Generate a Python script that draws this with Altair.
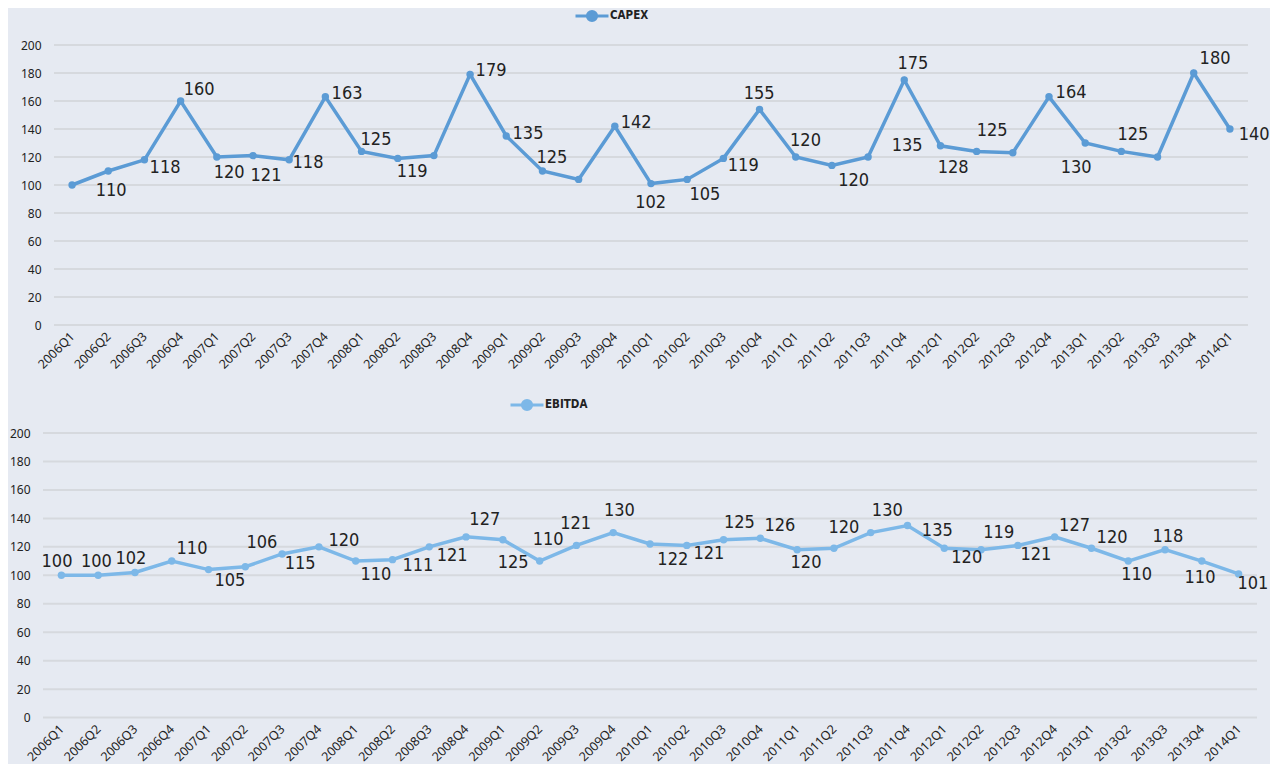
import altair as alt
import pandas as pd

quarters = ["2006Q1", "2006Q2", "2006Q3", "2006Q4", "2007Q1", "2007Q2", "2007Q3", "2007Q4",
            "2008Q1", "2008Q2", "2008Q3", "2008Q4", "2009Q1", "2009Q2", "2009Q3", "2009Q4",
            "2010Q1", "2010Q2", "2010Q3", "2010Q4", "2011Q1", "2011Q2", "2011Q3", "2011Q4",
            "2012Q1", "2012Q2", "2012Q3", "2012Q4", "2013Q1", "2013Q2", "2013Q3", "2013Q4",
            "2014Q1"]

capex = [100, 110, 118, 160, 120, 121, 118, 163, 124, 119, 121, 179, 135, 110, 104, 142,
         101, 104, 119, 154, 120, 114, 120, 175, 128, 124, 123, 163, 130, 124, 120, 180, 140]

ebitda = [100, 100, 102, 110, 104, 106, 115, 120, 110, 111, 120, 127, 125, 110, 121, 130,
          122, 121, 125, 126, 118, 119, 130, 135, 119, 118, 121, 127, 119, 110, 118, 110, 101]

# data labels as printed on the chart (text, anchor in quarter-index units, anchor value)
capex_label_text = ["110", "118", "160", "120", "121", "118", "163", "125", "119", "179", "135",
                    "125", "142", "102", "105", "119", "155", "120", "120", "175", "135", "128",
                    "125", "164", "130", "125", "180", "140"]
capex_label_x = [1.08, 2.57, 3.51, 4.34, 5.36, 6.52, 7.60, 8.40, 9.40, 11.58, 12.60, 13.26,
                 15.59, 15.99, 17.49, 18.55, 18.99, 20.27, 21.60, 23.24, 23.08, 24.35, 25.43,
                 27.61, 27.75, 29.32, 31.59, 32.67]
capex_label_y = [95.5, 112, 167.6, 108.4, 106.2, 115.5, 164.8, 131.9, 109, 181.2, 136.2, 119,
                 144, 87.3, 92.9, 113.7, 164.8, 131.2, 102.6, 186.2, 127.6, 112, 138.4, 165.5,
                 112, 135.5, 189.8, 135.5]

ebitda_label_text = ["100", "100", "102", "110", "105", "106", "115", "120", "110", "111", "121",
                     "127", "125", "110", "121", "130", "122", "121", "125", "126", "120", "120",
                     "130", "135", "120", "119", "121", "127", "120", "110", "118", "110", "101"]
ebitda_label_x = [-0.12, 0.95, 1.89, 3.55, 4.58, 5.45, 6.49, 7.68, 8.55, 9.69, 10.62, 11.51,
                  12.28, 13.23, 13.98, 15.17, 16.62, 17.60, 18.43, 19.53, 20.24, 21.27, 22.45,
                  23.81, 24.61, 25.48, 26.49, 27.54, 28.56, 29.23, 30.08, 30.95, 32.39]
ebitda_label_y = [109.1, 109.1, 111.2, 118.3, 95.8, 122.5, 107.7, 123.9, 100, 106.3, 113.4,
                  138.7, 108.4, 124.6, 135.8, 144.9, 110.5, 114.8, 136.5, 134.4, 108.4, 133.4,
                  145.3, 131.3, 111.9, 129.9, 114.1, 134.4, 126, 100, 126.7, 97.9, 93.7]

y_ticks = [0, 20, 40, 60, 80, 100, 120, 140, 160, 180, 200]

BG = "#E6EAF2"
GRID = "#D6D9DE"
TEXT = "#222222"
LABEL_FONT = "Liberation Sans Narrow, DejaVu Sans Condensed, Liberation Sans"
AXIS_FONT = "Noto Sans"
# line with a dot; drawn at symbolSize 121 (unit = 5.5 px) -> 33 px wide, dot radius ~4.6 px
LEGEND_PATH = "M-3,0L3,0M0.84,0A0.84,0.84,0,1,1,-0.84,0A0.84,0.84,0,1,1,0.84,0Z"

label_expr = "[" + ",".join("'%s'" % q for q in quarters) + "][datum.value]"


def panel(name, values, ltext, lx, ly, color, xdomain, width, height, ylabelpad, legx, legy):
    df = pd.DataFrame({"idx": list(range(len(quarters))), "quarter": quarters,
                       "value": values, "series": name})
    lab = pd.DataFrame({"t": ltext, "lx": lx, "ly": ly})
    grid = pd.DataFrame({"v": y_ticks})

    xscale = alt.Scale(domain=xdomain, nice=False, zero=False)
    yscale = alt.Scale(domain=[0, 200], nice=False)

    xaxis = alt.Axis(
        values=list(range(len(quarters))), labelExpr=label_expr, labelAngle=-45,
        labelAlign="right", labelBaseline="middle", grid=False, ticks=False, domain=False,
        title=None, labelFont=AXIS_FONT, labelFontSize=12.5, labelColor=TEXT,
        labelPadding=9, labelOverlap=False, labelBound=False, labelFlush=False)
    yaxis = alt.Axis(
        values=y_ticks, grid=False, ticks=False, domain=False, title=None,
        labelFont=AXIS_FONT, labelFontSize=12, labelColor=TEXT, labelPadding=ylabelpad,
        labelOverlap=False, labelBound=False, labelFlush=False)

    rules = alt.Chart(grid).mark_rule(color=GRID, strokeWidth=2).encode(
        y=alt.Y("v:Q", scale=yscale, axis=yaxis),
        x=alt.XDatum(-0.5, scale=xscale, axis=xaxis, type="quantitative"),
        x2=alt.X2Datum(32.5),
    )

    line = alt.Chart(df).mark_line(
        strokeWidth=3.5,
        point=alt.OverlayMarkDef(size=55, filled=True, opacity=1),
    ).encode(
        x=alt.X("idx:Q", scale=xscale, axis=xaxis),
        y=alt.Y("value:Q", scale=yscale, axis=yaxis),
        color=alt.Color("series:N", scale=alt.Scale(domain=[name], range=[color]),
                        legend=alt.Legend(
                            orient="none", legendX=legx, legendY=legy, title=None,
                            symbolType=LEGEND_PATH, symbolSize=121, symbolStrokeWidth=3,
                            symbolFillColor=color, symbolStrokeColor=color,
                            labelFont=LABEL_FONT, labelFontSize=11.5, labelFontWeight="bold",
                            labelColor=TEXT, labelOffset=11, padding=0)),
    )

    text = alt.Chart(lab).mark_text(
        font=LABEL_FONT, fontSize=18, color=TEXT, align="center", baseline="middle",
    ).encode(
        x=alt.X("lx:Q", scale=xscale, axis=xaxis),
        y=alt.Y("ly:Q", scale=yscale, axis=yaxis),
        text="t:N",
    )

    return alt.layer(rules, line, text).properties(width=width, height=height)


top = panel("CAPEX", capex, capex_label_text, capex_label_x, capex_label_y, "#5B9BD5",
            [-0.804, 32.5], 1205, 280, 2, 542, -36)
bottom = panel("EBITDA", ebitda, ebitda_label_text, ebitda_label_x, ebitda_label_y, "#7DB8E8",
               [-0.5, 32.5], 1214, 284.6, 13, 477, -35)

chart = alt.vconcat(top, bottom, spacing=27).resolve_scale(color="independent").properties(
    background=BG,
    padding={"left": 1, "top": 1, "right": 0, "bottom": 0},
).configure_view(stroke=None).configure_axis(labelOverlap=False)

chart.save("out.html", embed_options={"renderer": "svg", "actions": False})
